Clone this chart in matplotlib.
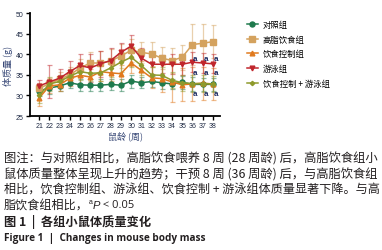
import numpy as np
import matplotlib
matplotlib.use("Agg")
import matplotlib.pyplot as plt

plt.rcParams['font.family'] = ['Noto Sans CJK SC', 'DejaVu Sans']

# ---- data ----
weeks = list(range(21, 39))

control = [31.1, 31.8, 32.3, 33.1, 32.6, 32.5, 32.5, 32.7, 32.5, 33.5, 33.1, 33.4, 33.1, 32.8, 33.2, 32.7, 32.7, 32.7]
control_err = [1.2, 1.5, 1.3, 1.2, 1.4, 1.5, 1.5, 1.4, 1.4, 1.6, 1.4, 1.4, 1.5, 1.3, 1.6, 1.7, 1.6, 1.6]

hfd = [31.8, 32.8, 34.0, 35.0, 36.7, 37.9, 37.9, 38.4, 39.6, 41.0, 40.5, 40.1, 39.1, 38.5, 39.3, 42.4, 42.7, 43.1]
hfd_err = [1.3, 1.5, 1.6, 2.0, 2.2, 2.6, 3.0, 3.0, 3.0, 2.8, 2.5, 3.0, 2.6, 3.0, 3.0, 5.1, 4.6, 4.0]

diet = [29.4, 32.3, 32.6, 34.2, 34.9, 34.5, 35.8, 35.5, 35.3, 37.9, 36.1, 34.3, 34.1, 33.3, 32.6, 32.8, 33.0, 32.8]
diet_err = [2.0, 1.8, 1.6, 1.8, 2.0, 2.0, 2.2, 2.0, 2.2, 2.4, 2.4, 2.6, 3.2, 4.9, 4.0, 4.2, 4.0, 3.8]

swim = [32.3, 33.3, 34.2, 35.8, 37.3, 36.7, 37.7, 38.5, 40.5, 42.0, 39.1, 37.6, 37.6, 37.6, 37.6, 38.1, 37.9, 37.7]
swim_err = [1.5, 4.0, 2.2, 2.6, 2.8, 3.4, 3.2, 3.0, 2.2, 2.8, 2.5, 2.4, 2.2, 2.4, 2.6, 2.5, 2.4, 2.3]

combo = [30.0, 32.8, 33.4, 34.7, 35.8, 35.4, 35.5, 36.7, 38.1, 39.3, 37.3, 35.0, 34.9, 33.7, 33.1, 32.9, 32.9, 32.8]
combo_err = [1.8, 1.6, 1.5, 1.8, 2.0, 2.0, 2.0, 2.2, 2.4, 2.4, 2.2, 2.0, 2.0, 2.0, 2.0, 2.0, 2.0, 2.0]

labels = ['对照组', '高脂饮食组', '饮食控制组', '游泳组', '饮食控制 + 游泳组']

# significance marks ("a") vs high-fat group
sig_weeks = [36, 37, 38]
sig_levels = [39.1, 35.6, 30.5]

caption = [
    '图注：与对照组相比，高脂饮食喂养 8 周 (28 周龄) 后，高脂饮食组小',
    '鼠体质量整体呈现上升的趋势；干预 8 周 (36 周龄) 后，与高脂饮食组',
    '相比，饮食控制组、游泳组、饮食控制 + 游泳组体质量显著下降。与高',
]

# ---- figure ----
fig = plt.figure(figsize=(3.82, 2.51), dpi=100)
ax = fig.add_axes([30 / 382, 1 - 117 / 251, 190 / 382, 102.7 / 251])

series = [
    (control, control_err, '#1f7a4d', 'o', 3.6),
    (hfd, hfd_err, '#d4a25e', 's', 4.0),
    (diet, diet_err, '#e07a1f', '^', 3.4),
    (swim, swim_err, '#c0262c', 'v', 3.4),
    (combo, combo_err, '#8e9a2c', 'D', 2.2),
]

handles = []
for (vals, err, col, mk, ms), lab in zip(series, labels):
    ax.errorbar(weeks, vals, yerr=err, fmt='none', ecolor=col, alpha=0.5,
                elinewidth=0.9, capsize=1.8, capthick=0.9, zorder=2)
    ln, = ax.plot(weeks, vals, color=col, lw=1.1, marker=mk, ms=ms,
                  mec=col, mfc=col, label=lab, zorder=3)
    handles.append(ln)

for wk in sig_weeks:
    for lv in sig_levels:
        ax.text(wk + 0.3, lv, 'a', fontsize=5.8, fontweight='bold',
                color='#1c2c63', ha='center', va='center', zorder=5,
                family=['Liberation Sans', 'DejaVu Sans'])

ax.set_xlim(20.1, 38.7)
ax.set_ylim(25, 50)
ax.set_xticks(weeks)
ax.set_yticks([25, 30, 35, 40, 45, 50])
for s in ['top', 'right']:
    ax.spines[s].set_visible(False)
for s in ['left', 'bottom']:
    ax.spines[s].set_linewidth(1.3)
ax.tick_params(axis='both', width=1.0, length=3, pad=1.5, labelsize=5,
               labelcolor='#1f2a44')
for t in ax.get_xticklabels() + ax.get_yticklabels():
    t.set_family(['Liberation Sans', 'DejaVu Sans'])

ax.set_ylabel('体质量 (g)', fontsize=6.5, color='#3a4a78', labelpad=2)
ax.set_xlabel('鼠龄 (周)', fontsize=6.5, color='#3a4a78', labelpad=1)

ax.legend(handles=handles, loc='upper left', frameon=False,
          bbox_to_anchor=(247 / 382, 1 - 21 / 251), bbox_transform=fig.transFigure,
          fontsize=6, handlelength=1.3, handletextpad=0.6, labelspacing=0.68,
          borderaxespad=0, borderpad=0)

# ---- caption ----
cap_col = '#231f20'
fig.canvas.draw()
renderer = fig.canvas.get_renderer()

# justified lines: shrink/grow font so each line spans x = 4..377 px
ys = [158.5, 174.5, 190.5]
for line, y in zip(caption, ys):
    t = fig.text(4 / 382, 1 - y / 251, line, fontsize=8.6, color=cap_col,
                 va='center', ha='left')
    w = t.get_window_extent(renderer).width
    t.set_fontsize(8.6 * 373 / w)

# line 4 with superscript a and italic P, pieces placed one after another
y4 = 1 - 206 / 251
pieces = [
    ('脂饮食组相比，', dict(fontsize=8.7), 0),
    ('a', dict(fontsize=5, family=['Liberation Sans']), 0.012),
    ('P', dict(fontsize=8.0, style='italic', family=['Liberation Sans']), 0),
    (' < 0.05', dict(fontsize=8.0, family=['Open Sans', 'DejaVu Sans']), 0),
]
x = 4 / 382
for txt, kw, dy in pieces:
    t = fig.text(x, y4 + dy, txt, color=cap_col, va='center', ha='left', **kw)
    bb = t.get_window_extent(renderer)
    x = bb.x1 / fig.bbox.width

fig.text(4 / 382, 1 - 222.5 / 251, '图 1  |  各组小鼠体质量变化', fontsize=8.8,
         fontweight='bold', color=cap_col, va='center', ha='left')
fig.text(4 / 382, 1 - 239 / 251, 'Figure 1  |  Changes in mouse body mass',
         fontsize=7.2, fontweight='bold', color=cap_col, va='center', ha='left',
         family=['Open Sans', 'DejaVu Sans'])

fig.savefig('out.png', dpi=100)
